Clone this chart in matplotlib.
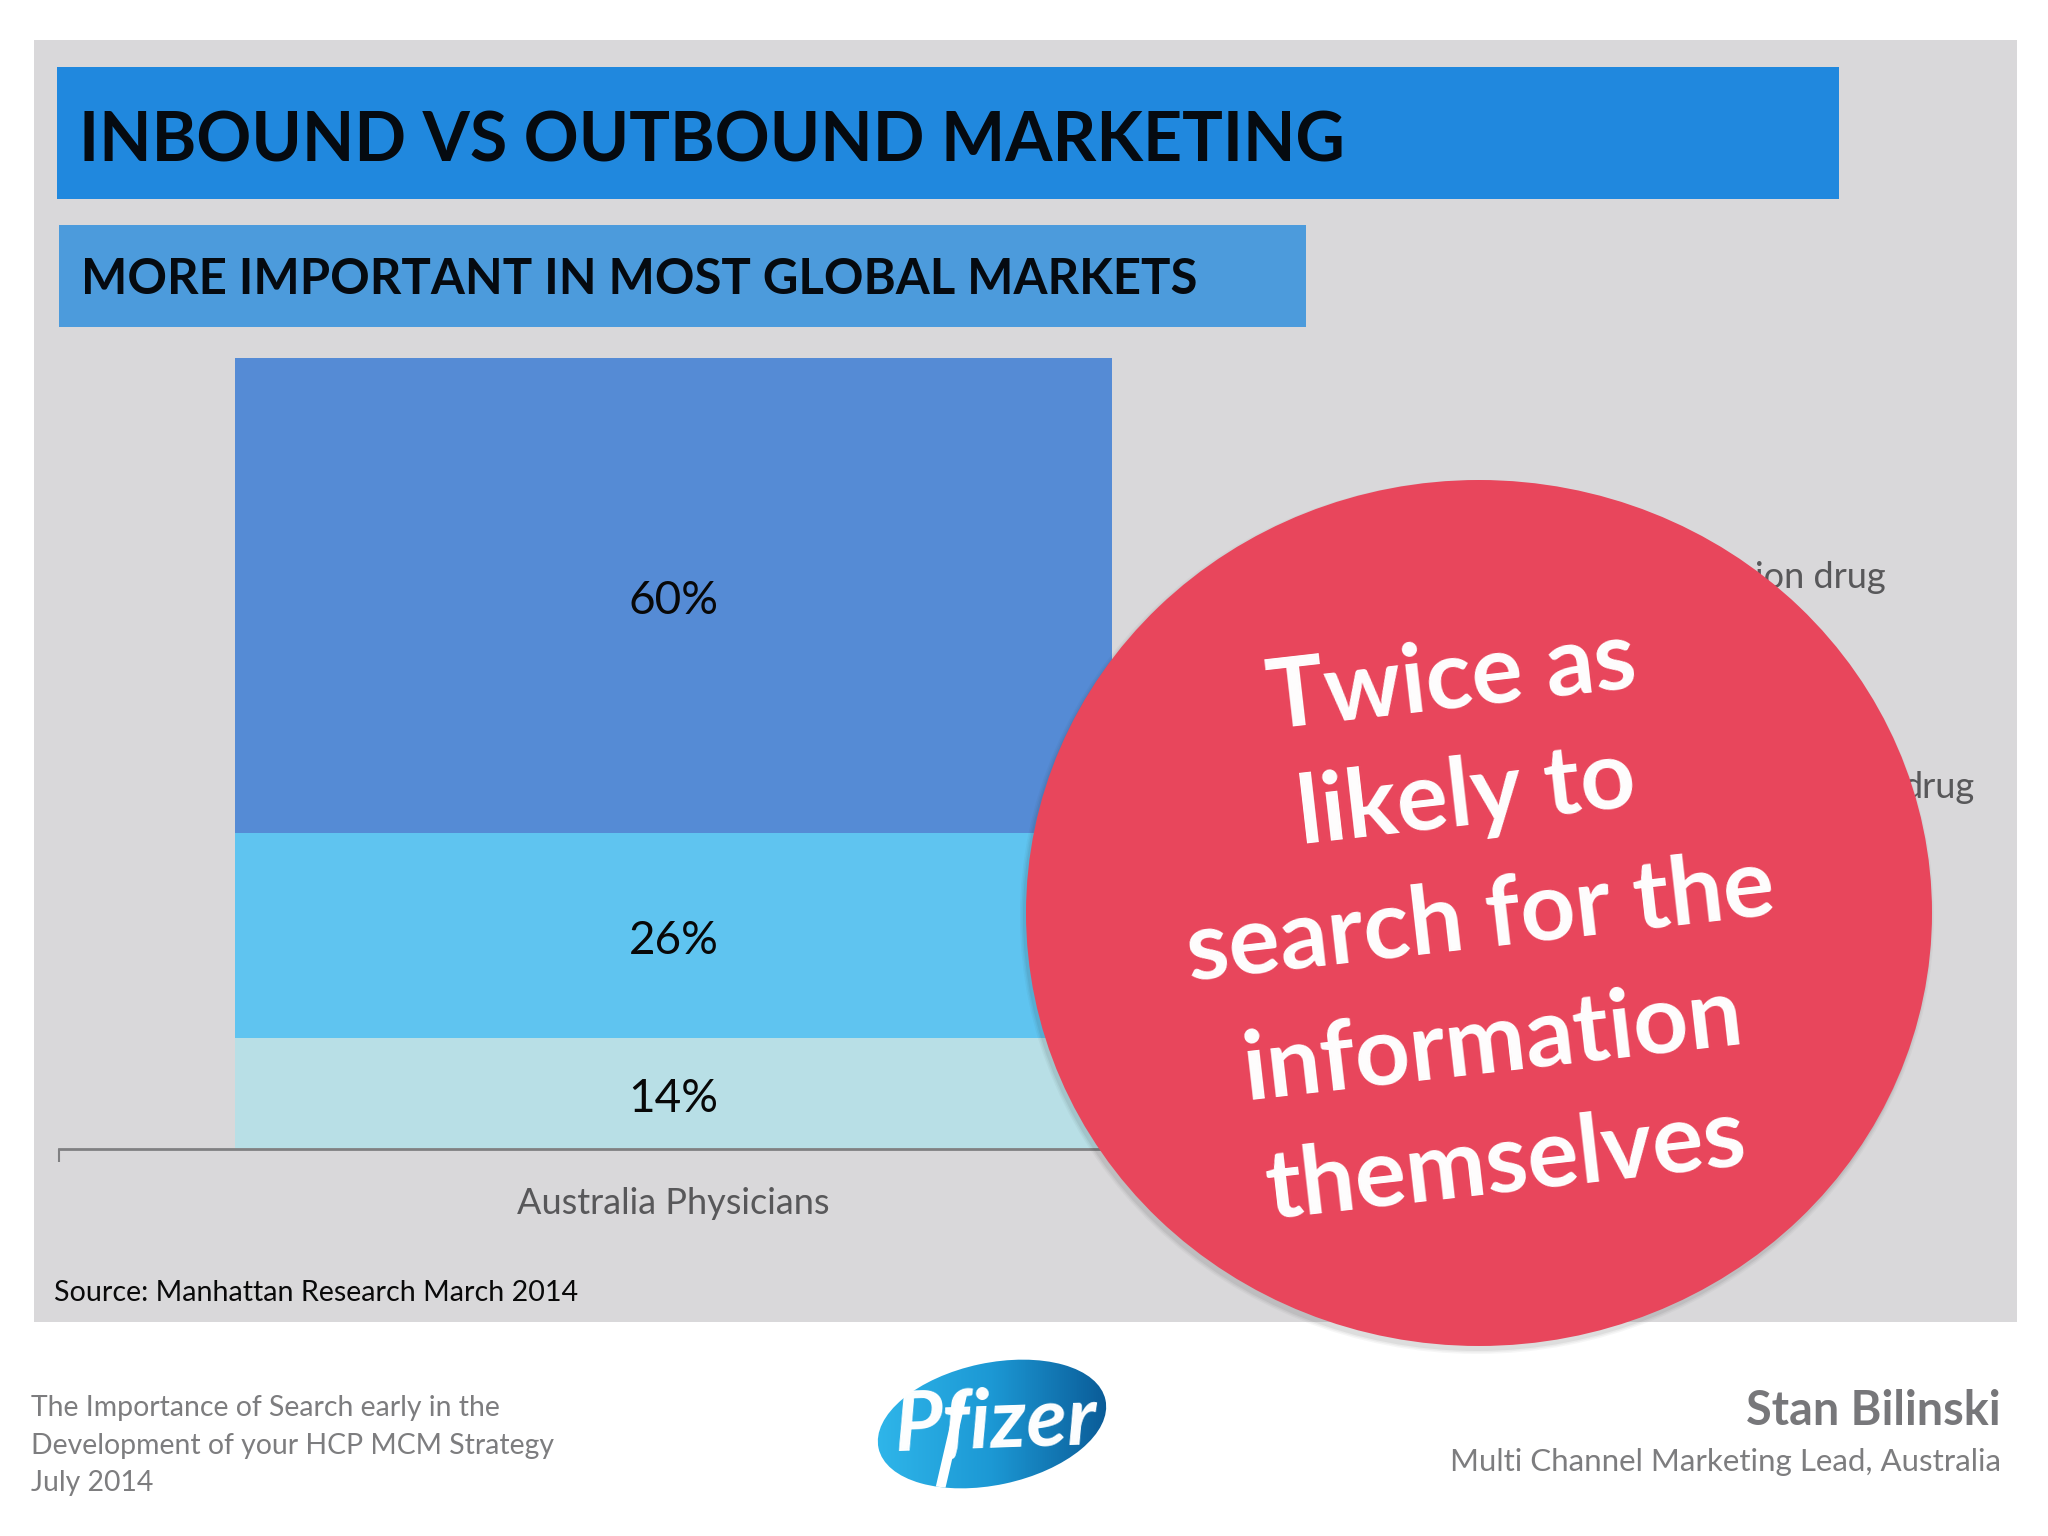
import numpy as np
import matplotlib
matplotlib.use("Agg")
import matplotlib.pyplot as plt
from matplotlib.patches import Ellipse, Rectangle

plt.rcParams['font.family'] = ['Lato', 'DejaVu Sans']

# data
# -------------------------------------------------------------------------------------
category = "Australia Physicians"
seg_values = [14, 26, 60]
seg_colors = ['#b8dfe6', '#5fc4f0', '#558bd5']

title = "INBOUND VS OUTBOUND MARKETING"
subtitle = "MORE IMPORTANT IN MOST GLOBAL MARKETS"
source = "Source: Manhattan Research March 2014"
callout_lines = ["Twice as", "likely to", "search for the", "information", "themselves"]
footer_left = ["The Importance of Search early in the",
               "Development of your HCP MCM Strategy",
               "July 2014"]

W, H = 2048, 1536
fig = plt.figure(figsize=(W / 100, H / 100), dpi=100, facecolor='white')

# background layer in pixel coords
bg = fig.add_axes([0, 0, 1, 1], zorder=0)
bg.set_xlim(0, W)
bg.set_ylim(H, 0)
bg.axis('off')
bg.add_patch(Rectangle((34, 40), 1983, 1282, fc='#d9d8da', ec='none'))
bg.add_patch(Rectangle((57, 67), 1782, 132, fc='#2088de', ec='none'))
bg.add_patch(Rectangle((59, 225), 1247, 102, fc='#4c9bdc', ec='none'))
bg.text(79, 142, title, fontsize=49, fontweight='bold', color='#050a10', va='center')
bg.text(81, 279, subtitle, fontsize=35.3, fontweight='bold', color='#050a10', va='center')
bg.text(54, 1293, source, fontsize=20.6, color='#0a0a0a', va='center')
bg.text(1886, 577, "ion drug", fontsize=26, color='#58585a', va='center', ha='right')
bg.text(1975, 788, "drug", fontsize=26, color='#58585a', va='center', ha='right')
for txt, y in zip(footer_left, [1408, 1446, 1483]):
    bg.text(31, y, txt, fontsize=20.4, color='#7d7d7f', va='center')
bg.text(2001, 1411, "Stan Bilinski", fontsize=33.7, fontweight='bold', color='#77777a', va='center', ha='right')
bg.text(2001, 1462, "Multi Channel Marketing Lead, Australia", fontsize=22.5, color='#7d7d7f', va='center', ha='right')

# the stacked bar, axes spans the plot area of the slide chart
ax = fig.add_axes([59 / W, 1 - 1149 / H, 1229 / W, 791 / H], zorder=1)
ax.patch.set_alpha(0)
bottom = 0
for val, col in zip(seg_values, seg_colors):
    ax.bar(0, val, width=0.714, bottom=bottom, color=col)
    ax.text(0, bottom + val / 2 - 0.7, f"{val}%", fontsize=33, color='#080808', ha='center', va='center')
    bottom += val
ax.set_xlim(-0.5, 0.5)
ax.set_ylim(0, 100)
ax.set_xticks([-0.5, 0], ['', category], fontsize=26, color='#58585a')
ax.tick_params(axis='x', length=9.5, pad=18, color='#808082', width=1.5)
ax.xaxis.get_major_ticks()[1].tick1line.set_visible(False)
ax.set_yticks([])
for s in ['top', 'left', 'right']:
    ax.spines[s].set_visible(False)
ax.spines['bottom'].set_color('#808082')
ax.spines['bottom'].set_linewidth(2)

# callout and logo on top
top = fig.add_axes([0, 0, 1, 1], zorder=2)
top.set_xlim(0, W)
top.set_ylim(H, 0)
top.axis('off')
top.patch.set_alpha(0)

# soft shadow
for grow, a in zip([8, 5, 2], [0.04, 0.05, 0.07]):
    top.add_patch(Ellipse((1477, 917), 906 + grow, 866 + grow, fc='#303030', ec='none', alpha=a))
top.add_patch(Ellipse((1479, 913), 906, 866, fc='#e8465c', ec='none'))

for txt, x, y in zip(callout_lines,
                     [1452, 1467, 1480, 1493, 1506],
                     [680, 798, 920, 1044, 1164]):
    top.text(x, y, txt, fontsize=69, fontweight='bold', color='white',
             ha='center', va='center', rotation=6.5, rotation_mode='anchor')

# Pfizer logo: gradient ellipse with the word on it
logo = Ellipse((992, 1424), 232, 122, angle=-12, fc='none', ec='none', transform=top.transData)
top.add_patch(logo)
grad = np.linspace(0, 1, 256).reshape(1, -1)
cmap = matplotlib.colors.LinearSegmentedColormap.from_list('logo', ['#2fb6ea', '#1c98d4', '#0a5a96'])
im = top.imshow(grad, extent=(875, 1110, 1495, 1353), cmap=cmap, aspect='auto')
im.set_clip_path(logo)
top.set_xlim(0, W)
top.set_ylim(H, 0)
stem, = top.plot([962, 940], [1395, 1490], color='white', lw=7, solid_capstyle='butt')
stem.set_clip_path(logo)
top.text(996, 1424, "Pfizer", fontsize=60, fontweight='bold', style='italic', color='white',
         ha='center', va='center', rotation=2)

fig.savefig("out.png", dpi=100)
